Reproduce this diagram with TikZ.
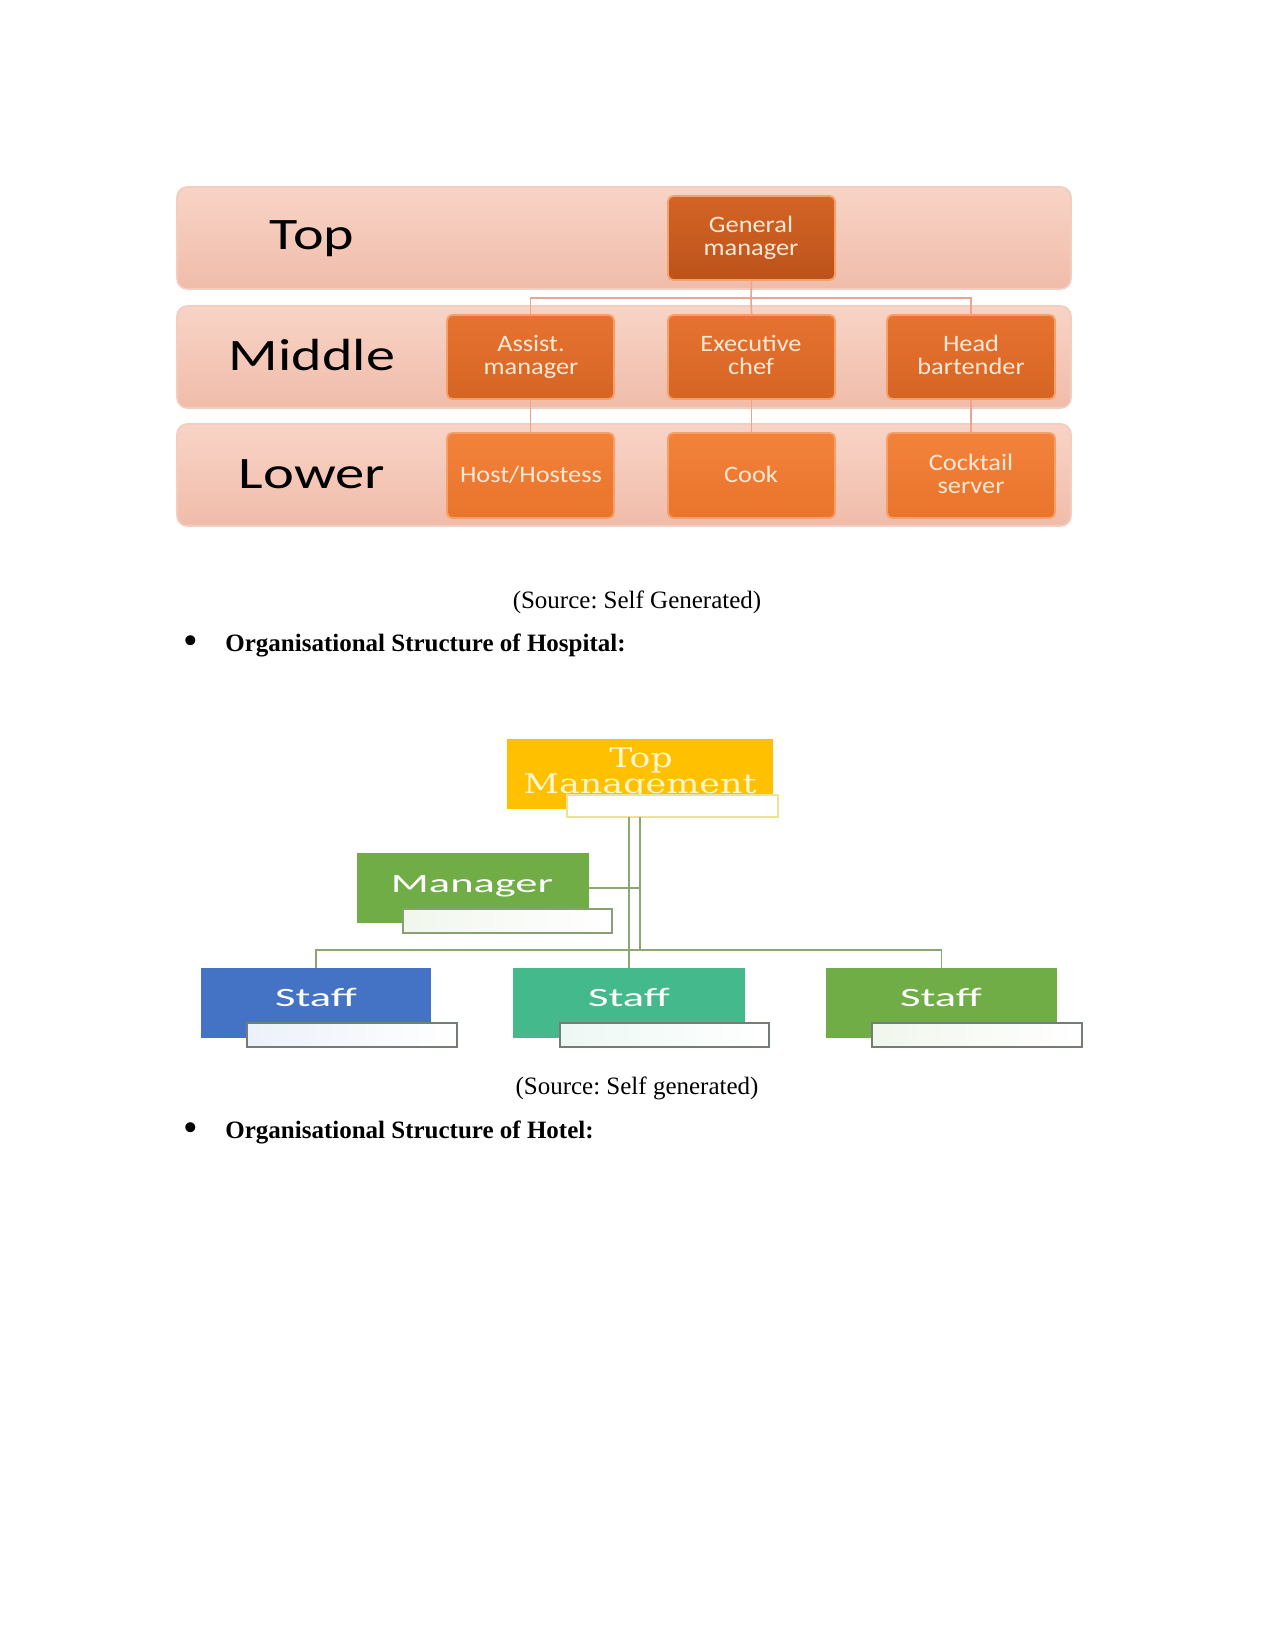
\documentclass[tikz,border=0pt]{standalone}
\usepackage{fontspec}
\usepackage{graphicx}
\setmainfont{Liberation Serif}
\newfontfamily\calib{Carlito}
\newfontfamily\dvs{DejaVu Serif}
\usetikzlibrary{fit}
\newcommand\sx[2]{\scalebox{#1}[1]{#2}}
\definecolor{bandT}{RGB}{248,212,198}
\definecolor{bandB}{RGB}{240,188,170}
\definecolor{bandE}{RGB}{243,205,192}
\definecolor{gmA}{RGB}{212,100,38}
\definecolor{gmB}{RGB}{188,82,26}
\definecolor{midA}{RGB}{230,115,48}
\definecolor{midB}{RGB}{214,100,36}
\definecolor{lowA}{RGB}{242,130,58}
\definecolor{lowB}{RGB}{234,116,44}
\definecolor{oEdge}{RGB}{245,160,105}
\definecolor{oText}{RGB}{255,232,212}
\definecolor{connC}{RGB}{236,165,140}
\definecolor{yel}{RGB}{255,192,0}
\definecolor{yelE}{RGB}{238,226,150}
\definecolor{cream}{RGB}{255,246,205}
\definecolor{grn}{RGB}{112,173,71}
\definecolor{blu}{RGB}{68,114,196}
\definecolor{tealc}{RGB}{68,185,140}
\definecolor{lineG}{RGB}{140,168,112}
\definecolor{subE}{RGB}{115,125,118}
\frenchspacing
\begin{document}
\begin{tikzpicture}[x=0.48pt,y=-0.48pt,
  band/.style={inner sep=0pt, rounded corners=5pt, top color=bandT, bottom color=bandB, draw=bandE, line width=0.8pt},
  obox/.style={inner sep=0pt, rounded corners=2.5pt, draw=oEdge, line width=0.9pt},
  otext/.style={anchor=base, inner sep=0pt, text=oText, font=\calib\fontsize{11.3}{12}\selectfont},
  gmbox/.style={obox, top color=gmA, bottom color=gmB},
  midbox/.style={obox, top color=midA, bottom color=midB},
  lowbox/.style={obox, top color=lowA, bottom color=lowB},
  lvl/.style={anchor=base, inner sep=0pt, font=\calib\fontsize{21.6}{24}\selectfont, text=black},
  conn/.style={draw=connC, line width=0.8pt},
  gline/.style={draw=lineG, line width=0.8pt},
  cbox/.style={inner sep=0pt},
  subbox/.style={inner sep=0pt, draw=subE, line width=0.6pt},
  bigtxt/.style={anchor=base, inner sep=0pt, font=\calib\fontsize{12.7}{14}\selectfont, text=white},
  tmtxt/.style={anchor=base, inner sep=0pt, font=\dvs\fontsize{13}{14}\selectfont, text=cream},
  body/.style={font=\fontsize{12}{14}\selectfont, inner sep=0pt},
  bodyb/.style={font=\bfseries\fontsize{12}{14}\selectfont, inner sep=0pt, anchor=west},
  bull/.style={font=\fontsize{20}{20}\selectfont, inner sep=0pt}
]
\fill[white] (0,0) rectangle (1275,1650);
\path[use as bounding box] (0,0) rectangle (1275,1650);

% ---------- Restaurant structure ----------
\node[band, fit={(177,187) (1071,289)}] (bT) {};
\node[band, fit={(177,306) (1071,408)}] (bM) {};
\node[band, fit={(177,424) (1071,526)}] (bL) {};
\node[lvl] (lT) at (312,250) {\sx{1.29}{Top}};
\node[lvl] (lM) at (312,371) {\sx{1.29}{Middle}};
\node[lvl] (lL) at (312,488) {\sx{1.3}{Lower}};

\coordinate (busT) at (751,298);
\node[gmbox, fit={(668,196) (835,280)}] (gm) {};
\node[midbox, fit={(447,315) (614,399)}] (am) {};
\node[midbox, fit={(668,315) (835,399)}] (ec) {};
\node[midbox, fit={(887,315) (1055,399)}] (hb) {};
\node[lowbox, fit={(447,433) (614,518)}] (hh) {};
\node[lowbox, fit={(668,433) (835,518)}] (ck) {};
\node[lowbox, fit={(887,433) (1055,518)}] (cs) {};

\node[otext] (gm1) at (751,233) {\sx{1.12}{General}};
\node[otext] (gm2) at (751,256) {\sx{1.12}{manager}};
\node[otext] (am1) at (531,352) {\sx{1.12}{Assist.}};
\node[otext] (am2) at (531,375) {\sx{1.12}{manager}};
\node[otext] (ec1) at (751,352) {\sx{1.12}{Executive}};
\node[otext] (ec2) at (751,375) {\sx{1.12}{chef}};
\node[otext] (hb1) at (971,352) {\sx{1.12}{Head}};
\node[otext] (hb2) at (971,375) {\sx{1.12}{bartender}};
\node[otext] (hh1) at (531,482) {\sx{1.12}{Host/Hostess}};
\node[otext] (ck1) at (751,482) {\sx{1.12}{Cook}};
\node[otext] (cs1) at (971,470) {\sx{1.12}{Cocktail}};
\node[otext] (cs2) at (971,493) {\sx{1.12}{server}};

\draw[conn] (gm.south) -- (busT);
\draw[conn] (am.north) |- (busT) -| (hb.north);
\draw[conn] (busT) -- (ec.north);
\draw[conn] (am.south) -- (hh.north);
\draw[conn] (ec.south) -- (ck.north);
\draw[conn] (hb.south) -- (cs.north);

% ---------- texts ----------
\node[body] (src1) at (637,602) {(Source: Self Generated)};
\node[bull] (bul1) at (191,645) {\textbullet};
\node[bodyb] (hd1) at (225,645) {Organisational Structure of Hospital:};

% ---------- Hospital structure ----------
\coordinate (d1) at (629,817);
\coordinate (d2) at (640,817);
\coordinate (busH) at (640,950);

\node[cbox, fill=yel, fit={(507,739) (773,809)}] (tm) {};
\node[tmtxt] (tmt1) at (641,767) {\sx{1.28}{Top}};
\node[tmtxt] (tmt2) at (640,793) {\sx{1.29}{Management}};
\node[inner sep=0pt, fill=white, draw=yelE, line width=0.8pt, fit={(567,795) (778,817)}] (tms) {};

\node[cbox, fill=grn, fit={(357,853) (589,923)}] (mg) {};
\node[bigtxt] (mgt) at (472,892) {\sx{1.68}{Manager}};
\node[subbox, draw=lineG!80!gray, left color=grn!10, right color=white, fit={(403,909) (612,933)}] (mgs) {};

\node[cbox, fill=blu, fit={(201,968) (431,1038)}] (s1) {};
\node[cbox, fill=tealc, fit={(513,968) (745,1038)}] (s2) {};
\node[cbox, fill=grn, fit={(826,968) (1057,1038)}] (s3) {};
\node[bigtxt] (s1t) at (316,1006) {\sx{1.68}{Staff}};
\node[bigtxt] (s2t) at (629,1006) {\sx{1.68}{Staff}};
\node[bigtxt] (s3t) at (941,1006) {\sx{1.68}{Staff}};
\node[subbox, left color=blu!10, right color=white, fit={(247,1023) (457,1047)}] (s1s) {};
\node[subbox, left color=tealc!10, right color=white, fit={(560,1023) (769,1047)}] (s2s) {};
\node[subbox, left color=grn!10, right color=white, fit={(872,1023) (1082,1047)}] (s3s) {};

\draw[gline] (d1) -- (d1 |- s2.north);
\draw[gline] (d2) -- (busH);
\draw[gline] (s1.north) |- (busH) -| (s3.north);
\draw[gline] (mg.east) -- (mg.east -| d2);

\node[body] (src2) at (637,1088) {(Source: Self generated)};
\node[bull] (bul2) at (191,1132) {\textbullet};
\node[bodyb] (hd2) at (225,1132) {Organisational Structure of Hotel:};
\end{tikzpicture}
\end{document}
